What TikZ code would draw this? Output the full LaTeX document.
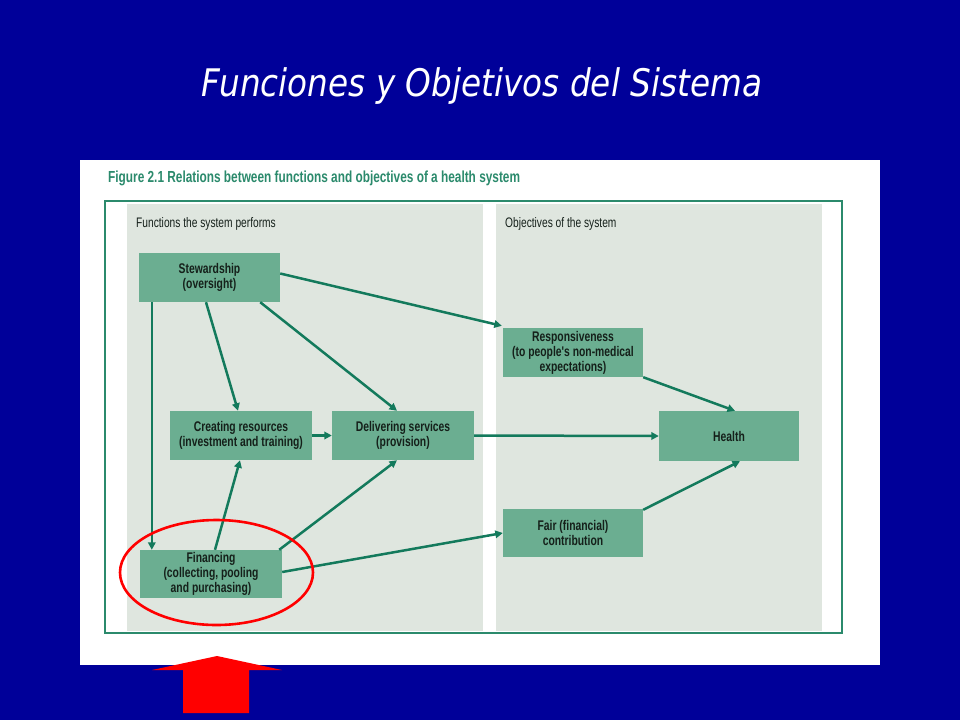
\documentclass[tikz,border=0pt]{standalone}
\usepackage{fontspec}
\usetikzlibrary{arrows.meta}
\newfontfamily\titlefont{DejaVu Sans}[FakeStretch=0.86]
\newfontfamily\cond{Liberation Sans}[FakeStretch=0.74]
\definecolor{slideblue}{HTML}{000099}
\definecolor{panelgray}{HTML}{DFE6DF}
\definecolor{boxgreen}{HTML}{6BAE91}
\definecolor{linegreen}{HTML}{137A5C}
\definecolor{figgreen}{HTML}{2B8A6C}
\definecolor{boxtext}{HTML}{15201A}
\tikzset{
  fbox/.style={draw=none, fill=boxgreen, inner sep=0pt, align=center,
    text=boxtext, font=\cond\bfseries\fontsize{14}{15}\selectfont},
  conn/.style={draw=linegreen, line width=2.5pt,
    -{Triangle[length=7.5pt,width=7.5pt]}},
  lbl/.style={anchor=west, inner sep=0pt, text=boxtext, font=\cond\fontsize{13.8}{14}\selectfont}
}
\begin{document}
\begin{tikzpicture}[x=1pt,y=-1pt]
\useasboundingbox (0,0) rectangle (960,720);
\fill[slideblue] (0,0) rectangle (960,720);
\node[text=white, font=\titlefont\itshape\fontsize{38}{42}\selectfont] (title) at (482,86) {Funciones y Objetivos del Sistema};
% white figure sheet
\fill[white] (80,160) rectangle (880,665);
\node[anchor=west, inner sep=0pt, text=figgreen, font=\cond\bfseries\fontsize{16}{18}\selectfont] (figtitle) at (108,178) {Figure 2.1 Relations between functions and objectives of a health system};
\draw[figgreen, line width=1.2pt] (105,201) rectangle (842,633);
\fill[panelgray] (127,204) rectangle (483,631);
\fill[panelgray] (496,204) rectangle (822,631);
\node[lbl] (funcs) at (136,224) {Functions the system performs};
\node[lbl] (objs) at (505,224) {Objectives of the system};
% boxes
\node[fbox, minimum width=141pt, minimum height=49pt] (stew) at (209.5,277.5) {Stewardship\\(oversight)};
\node[fbox, minimum width=142pt, minimum height=49pt] (crea) at (241,435.5) {Creating resources\\(investment and training)};
\node[fbox, minimum width=142pt, minimum height=49pt] (deli) at (403,435.5) {Delivering services\\(provision)};
\node[fbox, minimum width=142pt, minimum height=48pt] (fin) at (211,574) {Financing\\(collecting, pooling\\and purchasing)};
\node[fbox, minimum width=140pt, minimum height=49pt] (resp) at (573,352.5) {Responsiveness\\(to people's non-medical\\expectations)};
\node[fbox, minimum width=140pt, minimum height=50pt] (health) at (729,436) {Health};
\node[fbox, minimum width=140pt, minimum height=48pt] (fair) at (573,533) {Fair (financial)\\contribution};
% connectors
\draw[conn] ([yshift=4pt]stew.east) -- ([xshift=-1pt,yshift=2pt]resp.north west);
\draw[conn] ([xshift=-3.5pt]stew.south) -- ([xshift=-3pt]crea.north);
\draw[conn] ([xshift=-20pt]stew.south east) -- ([xshift=-6pt]deli.north);
\draw[conn] ([xshift=13pt]stew.south west) -- ([xshift=12pt]fin.north west);
\draw[conn] (crea.east) -- (deli.west);
\draw[conn] (deli.east) -- (health.west);
\draw[conn] ([xshift=4pt]fin.north) -- ([xshift=-1pt]crea.south);
\draw[conn] ([xshift=-3pt]fin.north east) -- ([xshift=-6pt]deli.south);
\draw[conn] ([yshift=2pt]fin.east) -- (fair.west);
\draw[conn] (resp.south east) -- ([xshift=6pt]health.north);
\draw[conn] ([yshift=-1pt]fair.north east) -- ([xshift=11pt]health.south);
% red highlight
\draw[red, line width=2.6pt] (216.5,572.5) ellipse [x radius=96.5, y radius=52.5];
\fill[red] (217,656) -- (282,670) -- (249,670) -- (249,713) -- (183,713) -- (183,670) -- (152,670) -- cycle;
\end{tikzpicture}
\end{document}
